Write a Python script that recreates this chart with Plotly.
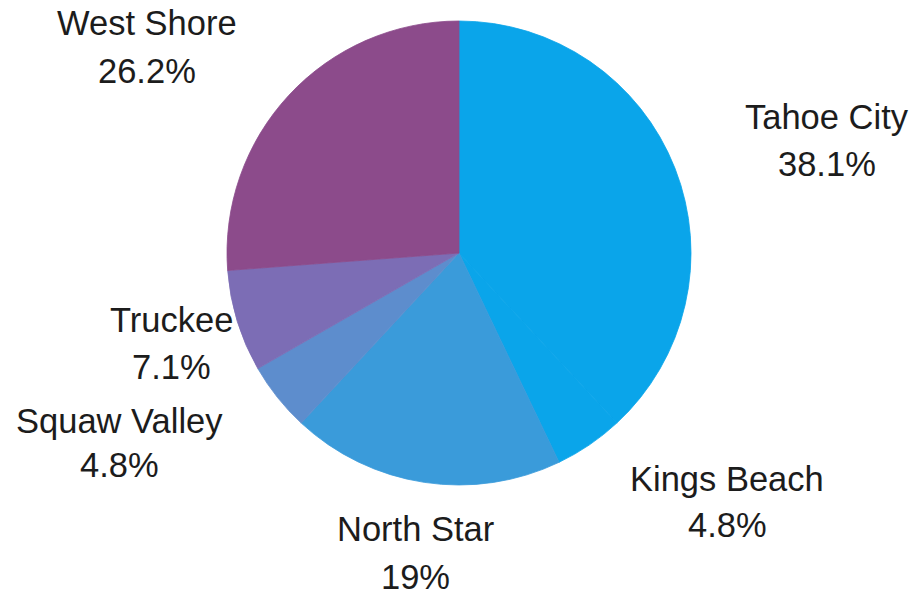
import plotly.graph_objects as go

# Share of responses by area
areas = ["Tahoe City", "Kings Beach", "North Star", "Squaw Valley", "Truckee", "West Shore"]
shares = [38.1, 4.8, 19, 4.8, 7.1, 26.2]
colors = ["#0AA5EA", "#0AA5EA", "#3A9BDA", "#5D8DCD", "#7C6DB5", "#8C4B8B"]

# Label anchor points in pixels: (x centre, name line middle, percent line middle)
label_pos = {
    "Tahoe City": (827, 117, 164),
    "Kings Beach": (727, 479, 525),
    "North Star": (415, 529, 577),
    "Squaw Valley": (119, 421, 465),
    "Truckee": (171, 320, 367),
    "West Shore": (147, 23, 71),
}

W, H = 914, 596
cx, cy, r = 459, 253, 232

fig = go.Figure(
    go.Pie(
        labels=areas,
        values=shares,
        sort=False,
        direction="clockwise",
        rotation=0,
        textinfo="none",
        hoverinfo="label+percent",
        # outline each slice in its own colour so no seams show between wedges
        marker=dict(colors=colors, line=dict(width=0.8, color=colors)),
        domain=dict(
            x=[(cx - r) / W, (cx + r) / W],
            y=[1 - (cy + r) / H, 1 - (cy - r) / H],
        ),
        showlegend=False,
    )
)

font = dict(family="Liberation Sans, Arial, sans-serif", size=34.5, color="#1c1c1c")
annotations = []
for name, val in zip(areas, shares):
    x, y_name, y_pct = label_pos[name]
    for text, y in ((name, y_name), (f"{val:g}%", y_pct)):
        annotations.append(
            dict(
                text=text,
                x=x / W,
                y=1 - y / H,
                xref="paper",
                yref="paper",
                xanchor="center",
                yanchor="middle",
                showarrow=False,
                font=font,
            )
        )

fig.update_layout(
    width=W,
    height=H,
    margin=dict(l=0, r=0, t=0, b=0),
    paper_bgcolor="white",
    plot_bgcolor="white",
    annotations=annotations,
)

fig.write_html("out.html")
